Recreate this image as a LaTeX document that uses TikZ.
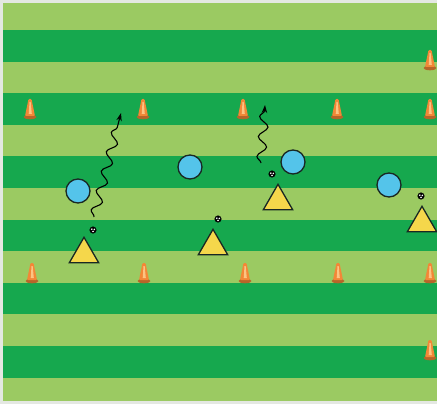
\documentclass[tikz,border=0pt]{standalone}
\usepackage{tikz}
\usetikzlibrary{shapes.geometric,arrows.meta,decorations.pathmorphing,positioning}

\definecolor{grasslight}{RGB}{155,202,98}
\definecolor{grassdark}{RGB}{22,168,78}
\definecolor{edgegrey}{RGB}{228,232,226}
\definecolor{playerblue}{RGB}{84,196,234}
\definecolor{playeryellow}{RGB}{245,215,75}
\definecolor{coneorange}{RGB}{242,135,55}
\definecolor{conelight}{RGB}{252,196,130}
\definecolor{outline}{RGB}{25,40,35}

\tikzset{
  blueplayer/.style={circle, draw=outline, fill=playerblue, line width=1.3pt, minimum size=24pt, inner sep=0pt},
  yellowplayer/.style={regular polygon, regular polygon sides=3, draw=outline, fill=playeryellow, line width=1.3pt, minimum size=34pt, inner sep=0pt},
  ballnode/.style={circle, fill=black, draw=black, line width=0.5pt, minimum size=6.5pt, inner sep=0pt,
    path picture={\fill[white] ([xshift=-1.2pt,yshift=0.8pt]path picture bounding box.center) circle (0.9pt)
                               ([xshift=1.3pt,yshift=0.6pt]path picture bounding box.center) circle (0.9pt)
                               ([yshift=-1.4pt]path picture bounding box.center) circle (0.9pt);}},
  dribble/.style={decorate, decoration={snake, amplitude=4.5pt, segment length=20pt, post length=5pt},
    line width=1.1pt, -{Stealth[length=8pt,width=5.5pt]}},
  pics/fieldcone/.style={code={
    \fill[coneorange!75!black] (0,0) ellipse (6.5pt and 2.3pt);
    \fill[coneorange, rounded corners=1pt] (-5,-1) -- (-1.5,-18) -- (1.5,-18) -- (5,-1) -- cycle;
    \fill[conelight] (-1.3,-3) -- (-0.5,-15) -- (0.7,-15) -- (1.8,-3) -- cycle;
  }}
}

\begin{document}
\begin{tikzpicture}[x=1pt,y=-1pt]

    \useasboundingbox (0,0) rectangle (437,404);
    \fill[edgegrey] (0,0) rectangle (437,404);

    % Pitch stripes
    \fill[grasslight] (3,3) rectangle (437,401);
    \foreach \k in {0,...,5} { \fill[grassdark] (3,30+63.2*\k) rectangle (437,61.6+63.2*\k); }

    % Cones
    \foreach \x in {30,143,243,337,430} { \pic at (\x,117) {fieldcone}; }
    \foreach \x in {32,144,245,338,430} { \pic at (\x,281) {fieldcone}; }
    \pic at (430,68) {fieldcone};
    \pic at (430,358) {fieldcone};

    % Blue players
    \node[blueplayer] (blue1) at (78,191) {};
    \node[blueplayer] (blue2) at (190,167) {};
    \node[blueplayer] (blue3) at (293,162) {};
    \node[blueplayer] (blue4) at (389,185) {};

    % Yellow players
    \node[yellowplayer] (yellow1) at (84,254.3) {};
    \node[yellowplayer] (yellow2) at (213,246.3) {};
    \node[yellowplayer] (yellow3) at (278,201.3) {};
    \node[yellowplayer] (yellow4) at (422,223.3) {};

    % Balls
    \node[ballnode] (ball1) at (93,230) {};
    \node[ballnode] (ball2) at (218,219) {};
    \node[ballnode] (ball3) at (272,174) {};
    \node[ballnode] (ball4) at (421,196) {};

    % Dribbles
    \coordinate (run1start) at (94,217);
    \coordinate (run1end) at (121,113);
    \coordinate (run2start) at (261,163);
    \coordinate (run2end) at (265,105);
    \draw[dribble] (run1start) -- (run1end);
    \draw[dribble] (run2start) -- (run2end);

\end{tikzpicture}
\end{document}
